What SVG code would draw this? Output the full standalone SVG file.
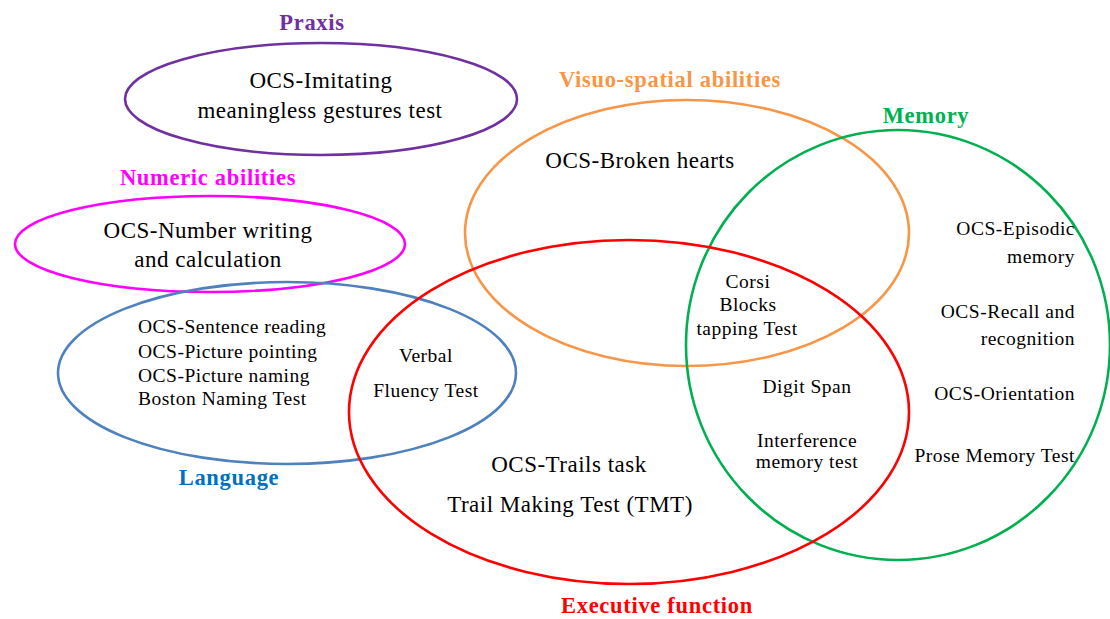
<svg xmlns="http://www.w3.org/2000/svg" width="1110" height="619" viewBox="0 0 1110 619">
<style>
.bg{fill:#ffffff}
.ell{fill:none;stroke-width:2.6}
.lab{font-family:"Liberation Serif","Times New Roman",serif;font-weight:bold;font-size:22.5px;letter-spacing:0.7px;text-anchor:middle}
.big{font-family:"Liberation Serif","Times New Roman",serif;font-size:23px;letter-spacing:0.5px;fill:#000;text-anchor:middle}
.sm{font-family:"Liberation Serif","Times New Roman",serif;font-size:19.5px;letter-spacing:0.5px;fill:#000}
.mid{text-anchor:middle}
.end{text-anchor:end}
</style>
<rect class="bg" x="0" y="0" width="1110" height="619"/>
<g id="praxis">
<ellipse class="ell" cx="321" cy="99" rx="196" ry="56" stroke="#7030A0"/>
<text class="lab" x="312" y="30" fill="#7030A0">Praxis</text>
<text class="big" x="321" y="88">OCS-Imitating</text>
<text class="big" x="320" y="118">meaningless gestures test</text>
</g>
<g id="numeric">
<ellipse class="ell" cx="210" cy="244" rx="195" ry="48" stroke="#FF00FF"/>
<text class="lab" x="208" y="185" fill="#FF00FF">Numeric abilities</text>
<text class="big" x="208" y="238">OCS-Number writing</text>
<text class="big" x="208" y="267">and calculation</text>
</g>
<g id="language">
<ellipse class="ell" cx="287" cy="373" rx="229" ry="91" stroke="#4F81BD"/>
<text class="lab" x="229" y="485" fill="#0070C0">Language</text>
<text class="sm" x="138" y="333">OCS-Sentence reading</text>
<text class="sm" x="138" y="358">OCS-Picture pointing</text>
<text class="sm" x="138" y="382">OCS-Picture naming</text>
<text class="sm" x="138" y="405">Boston Naming Test</text>
</g>
<g id="visuospatial">
<ellipse class="ell" cx="687" cy="233" rx="222" ry="133" stroke="#F79646"/>
<text class="lab" x="670" y="87" fill="#F79646">Visuo-spatial abilities</text>
<text class="big" x="640" y="168">OCS-Broken hearts</text>
</g>
<g id="memory">
<ellipse class="ell" cx="898" cy="345" rx="212" ry="215" stroke="#00B050"/>
<text class="lab" x="926" y="123" fill="#00B050">Memory</text>
<text class="sm end" x="1075" y="235">OCS-Episodic</text>
<text class="sm end" x="1075" y="263">memory</text>
<text class="sm end" x="1075" y="318">OCS-Recall and</text>
<text class="sm end" x="1075" y="345">recognition</text>
<text class="sm end" x="1075" y="400">OCS-Orientation</text>
<text class="sm end" x="1075" y="462">Prose Memory Test</text>
</g>
<g id="executive">
<ellipse class="ell" cx="629" cy="412" rx="280" ry="172" stroke="#FF0000"/>
<text class="lab" x="657" y="613" fill="#FF0000">Executive function</text>
<text class="big" x="569" y="472">OCS-Trails task</text>
<text class="big" x="570" y="512">Trail Making Test (TMT)</text>
</g>
<g id="overlaps">
<text class="sm mid" x="426" y="362">Verbal</text>
<text class="sm mid" x="426" y="397">Fluency Test</text>
<text class="sm mid" x="748" y="288">Corsi</text>
<text class="sm mid" x="748" y="311">Blocks</text>
<text class="sm mid" x="747" y="335">tapping Test</text>
<text class="sm mid" x="807" y="393">Digit Span</text>
<text class="sm mid" x="807" y="447">Interference</text>
<text class="sm mid" x="807" y="468">memory test</text>
</g>
<g id="connectors"/>
</svg>
